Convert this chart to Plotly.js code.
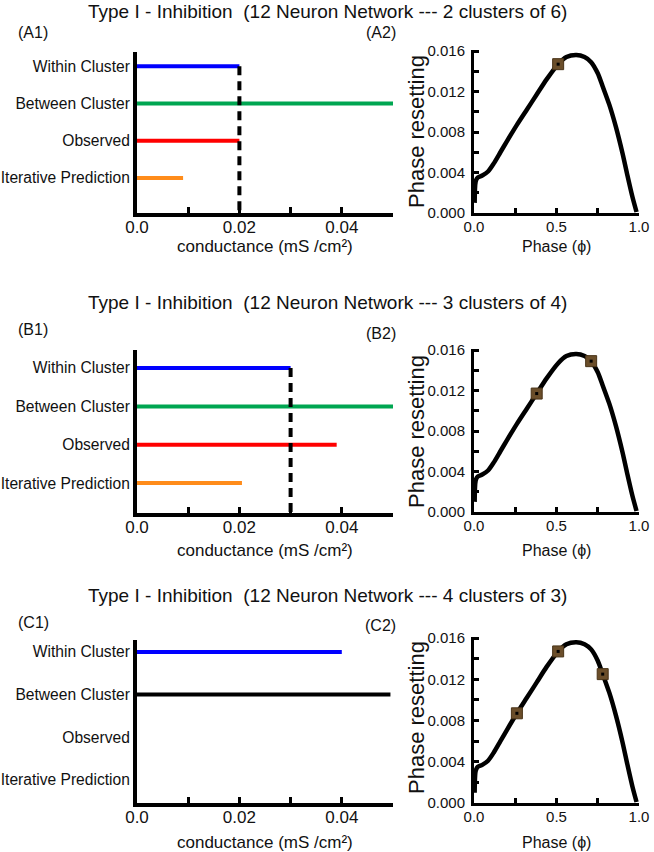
<!DOCTYPE html>
<html>
<head>
<meta charset="utf-8">
<script src="https://cdn.plot.ly/plotly-3.0.1.min.js"></script>
<style>
  body { margin: 0; background: #fff; }
  #graph { width: 654px; height: 852px; }
</style>
</head>
<body>
<div id="graph"></div>
<script>
// categories, top to bottom
var catLabels = ['Within Cluster', 'Between Cluster', 'Observed', 'Iterative Prediction'];

// conductance values (mS/cm2) for each row, same order as catLabels
var gA = [0.020, 0.050, 0.020, 0.009];
var gB = [0.030, 0.050, 0.039, 0.0205];
var gC = [0.040, 0.0495, null, null];

// dashed marker line (within cluster value)
var dashA = 0.020;
var dashB = 0.030;

// row titles and panel labels
var rowTitles = [
  'Type I - Inhibition&nbsp; (12 Neuron Network --- 2 clusters of 6)',
  'Type I - Inhibition&nbsp; (12 Neuron Network --- 3 clusters of 4)',
  'Type I - Inhibition&nbsp; (12 Neuron Network --- 4 clusters of 3)'
];
var panelLabels = [['(A1)', '(A2)'], ['(B1)', '(B2)'], ['(C1)', '(C2)']];

// phase resetting curve
var phi = [0.004, 0.010, 0.022, 0.050, 0.085, 0.12, 0.16, 0.20, 0.26, 0.32, 0.38, 0.44, 0.51,
           0.56, 0.62, 0.67, 0.71, 0.75, 0.78, 0.82, 0.86, 0.90, 0.93, 0.96, 0.985];
var prc = [0.0010, 0.0031, 0.0035, 0.0037, 0.0041, 0.0049, 0.0060, 0.0071, 0.0087, 0.0102, 0.0117, 0.0132, 0.0147,
           0.0154, 0.0156, 0.0154, 0.0149, 0.0138, 0.0125, 0.0107, 0.0085, 0.0059, 0.0037, 0.0016, 0.0001];

// cluster points on the curve
var markA_phi = [0.51];
var markA_val = [0.0147];
var markB_phi = [0.38, 0.71];
var markB_val = [0.0117, 0.0149];
var markC_phi = [0.26, 0.51, 0.78];
var markC_val = [0.0087, 0.0147, 0.0125];

// tick labels
var gTicks = [0, 0.01, 0.02, 0.03, 0.04, 0.05];
var gTickText = ['0.0', '', '0.02', '', '0.04', ''];
var prcTicks = [0, 0.002, 0.004, 0.006, 0.008, 0.010, 0.012, 0.014, 0.016];
var prcTickText = ['0.000', '', '0.004', '', '0.008', '', '0.012', '', '0.016'];
var phiTicks = [0, 0.25, 0.5, 0.75, 1.0];
var phiTickText = ['0.0', '', '0.5', '', '1.0'];

var FONT = 'Liberation Sans, Arial, sans-serif';
var W = 654, H = 852;
function px(x) { return x / W; }
function py(y) { return 1 - y / H; }

var data = [];

function addRow(g, dashVal, colors, marks, xa, ya, xb, yb) {
  // horizontal bars as thick lines
  for (var i = 0; i < catLabels.length; i++) {
    if (g[i] === null) continue;
    data.push({
      x: [0, g[i]], y: [3 - i, 3 - i],
      xaxis: xa, yaxis: ya, type: 'scatter', mode: 'lines',
      line: { color: colors[i], width: 4 }, hoverinfo: 'skip', showlegend: false
    });
  }
  // dashed line from within-cluster down to axis
  if (dashVal !== null) {
    data.push({
      x: [dashVal, dashVal], y: [3, -1],
      xaxis: xa, yaxis: ya, type: 'scatter', mode: 'lines',
      line: { color: 'black', width: 4, dash: '9px,6px' }, hoverinfo: 'skip', showlegend: false
    });
  }
  // phase resetting curve
  data.push({
    x: phi, y: prc, xaxis: xb, yaxis: yb, type: 'scatter', mode: 'lines',
    line: { color: 'black', width: 4.5, shape: 'spline', smoothing: 0.7 }, hoverinfo: 'skip', showlegend: false
  });
  data.push({
    x: marks[0], y: marks[1], xaxis: xb, yaxis: yb, type: 'scatter', mode: 'markers',
    marker: { symbol: 'square', size: 11, color: '#6b4e2a', line: { color: '#4a3418', width: 1 } },
    cliponaxis: false, hoverinfo: 'skip', showlegend: false
  });
  data.push({
    x: marks[0], y: marks[1], xaxis: xb, yaxis: yb, type: 'scatter', mode: 'markers',
    marker: { symbol: 'square', size: 3, color: 'black' },
    cliponaxis: false, hoverinfo: 'skip', showlegend: false
  });
}

var colorsAB = ['#0000ff', '#00a651', '#ff0000', '#ff8c1a'];
var colorsC = ['#0000ff', '#000000', '#ff0000', '#ff8c1a'];

addRow(gA, dashA, colorsAB, [markA_phi, markA_val], 'x', 'y', 'x2', 'y2');
addRow(gB, dashB, colorsAB, [markB_phi, markB_val], 'x3', 'y3', 'x4', 'y4');
addRow(gC, null, colorsC, [markC_phi, markC_val], 'x5', 'y5', 'x6', 'y6');

// pixel geometry of each row: left plot top/bottom, right plot top/bottom, category range
var rows = [
  { lt: 52, lb: 213, rt: 50, rb: 213, cr: [-0.94, 3.38], title: 12, lab: 33, lab2: 33, xt: 246, yt: 132 },
  { lt: 350, lb: 513, rt: 349, rb: 512, cr: [-0.78, 3.47], title: 302, lab: 330, lab2: 333, xt: 550, yt: 432 },
  { lt: 640, lb: 803, rt: 637, rb: 803, cr: [-0.54, 3.28], title: 595, lab: 622, lab2: 625, xt: 842, yt: 718 }
];

var layout = {
  width: W, height: H,
  margin: { l: 0, r: 0, t: 0, b: 0 },
  paper_bgcolor: 'white', plot_bgcolor: 'white',
  font: { family: FONT, color: '#111', size: 16 },
  showlegend: false,
  annotations: []
};

rows.forEach(function (r, k) {
  var n = k * 2 + 1;
  var sx = n === 1 ? '' : String(n);
  var sx2 = String(n + 1);
  layout['xaxis' + sx] = {
    domain: [px(137), px(393)], range: [0, 0.05], anchor: 'y' + sx,
    showline: true, linecolor: 'black', linewidth: 4, showgrid: false, zeroline: false,
    tickmode: 'array', tickvals: gTicks, ticktext: gTickText,
    ticks: 'inside', ticklen: 6, tickwidth: 3, tickcolor: 'black',
    tickfont: { size: 17, family: FONT }, ticklabelstandoff: -4
  };
  layout['yaxis' + sx] = {
    domain: [py(r.lb), py(r.lt)], range: r.cr, anchor: 'x' + sx,
    showline: true, linecolor: 'black', linewidth: 4, showgrid: false, zeroline: false,
    tickmode: 'array', tickvals: [3, 2, 1, 0], ticktext: catLabels,
    ticks: '', tickfont: { size: 15.6, family: FONT }, ticklabelstandoff: 0
  };
  layout['xaxis' + sx2] = {
    domain: [px(474), px(639)], range: [0, 1.0], anchor: 'y' + sx2,
    showline: true, linecolor: 'black', linewidth: 3, showgrid: false, zeroline: false,
    tickmode: 'array', tickvals: phiTicks, ticktext: phiTickText,
    ticks: 'inside', ticklen: 5, tickwidth: 3, tickcolor: 'black',
    tickfont: { size: 15, family: FONT }, ticklabelstandoff: -2
  };
  layout['yaxis' + sx2] = {
    domain: [py(r.rb), py(r.rt)], range: [0, 0.0161], anchor: 'x' + sx2,
    showline: true, linecolor: 'black', linewidth: 3, showgrid: false, zeroline: false,
    tickmode: 'array', tickvals: prcTicks, ticktext: prcTickText,
    ticks: 'inside', ticklen: 5, tickwidth: 3, tickcolor: 'black',
    tickfont: { size: 15, family: FONT }, ticklabelstandoff: 3
  };

  var ann = layout.annotations;
  ann.push({ text: rowTitles[k], x: px(327), y: py(r.title), xref: 'paper', yref: 'paper',
             xanchor: 'center', yanchor: 'middle', showarrow: false, font: { size: 19 } });
  ann.push({ text: panelLabels[k][0], x: px(33), y: py(r.lab), xref: 'paper', yref: 'paper',
             xanchor: 'center', yanchor: 'middle', showarrow: false, font: { size: 16 } });
  ann.push({ text: panelLabels[k][1], x: px(381), y: py(r.lab2), xref: 'paper', yref: 'paper',
             xanchor: 'center', yanchor: 'middle', showarrow: false, font: { size: 16 } });
  ann.push({ text: 'conductance (mS /cm²)', x: px(265), y: py(r.xt), xref: 'paper', yref: 'paper',
             xanchor: 'center', yanchor: 'middle', showarrow: false, font: { size: 17 } });
  ann.push({ text: 'Phase (ϕ)', x: px(556), y: py(r.xt), xref: 'paper', yref: 'paper',
             xanchor: 'center', yanchor: 'middle', showarrow: false, font: { size: 16 } });
  ann.push({ text: 'Phase resetting', x: px(416), y: py(r.yt), xref: 'paper', yref: 'paper',
             xanchor: 'center', yanchor: 'middle', textangle: -90, showarrow: false, font: { size: 22 } });
});

Plotly.newPlot('graph', data, layout, { staticPlot: true });
</script>
</body>
</html>
